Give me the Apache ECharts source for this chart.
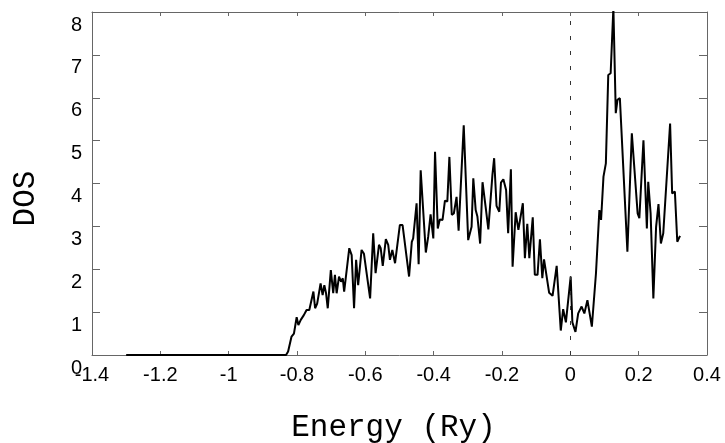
<!DOCTYPE html>
<html>
<head>
<meta charset="utf-8">
<script src="https://cdn.jsdelivr.net/npm/echarts@6/dist/echarts.min.js"></script>
<style>
  html, body { margin: 0; padding: 0; background: #fff; }
  #chart { width: 725px; height: 443px; }
</style>
</head>
<body>
<div id="chart"></div>
<script>
// energy (Ry) and density of states
const energy = [
  -1.300, -0.832, -0.826, -0.816, -0.809, -0.801, -0.796, -0.789, -0.780, -0.772,
  -0.764, -0.752, -0.747, -0.741, -0.735, -0.731, -0.725, -0.720, -0.715, -0.710,
  -0.701, -0.694, -0.689, -0.684, -0.677, -0.671, -0.666, -0.662, -0.647, -0.640,
  -0.633, -0.627, -0.621, -0.611, -0.604, -0.586, -0.577, -0.570, -0.560, -0.555,
  -0.549, -0.540, -0.533, -0.528, -0.521, -0.513, -0.499, -0.491, -0.472, -0.464,
  -0.460, -0.450, -0.444, -0.438, -0.423, -0.416, -0.409, -0.401, -0.396, -0.388,
  -0.382, -0.374, -0.367, -0.360, -0.354, -0.347, -0.341, -0.333, -0.327, -0.312,
  -0.299, -0.289, -0.284, -0.277, -0.272, -0.264, -0.257, -0.248, -0.240, -0.235,
  -0.228, -0.223, -0.216, -0.208, -0.203, -0.196, -0.188, -0.182, -0.174, -0.169,
  -0.160, -0.152, -0.139, -0.133, -0.126, -0.120, -0.110, -0.104, -0.096, -0.089,
  -0.082, -0.077, -0.062, -0.052, -0.040, -0.028, -0.021, -0.013, 0.001, 0.006,
  0.015, 0.023, 0.033, 0.041, 0.050, 0.063, 0.075, 0.085, 0.090, 0.097,
  0.104, 0.111, 0.118, 0.126, 0.133, 0.138, 0.145, 0.167, 0.180, 0.197,
  0.202, 0.214, 0.224, 0.228, 0.235, 0.243, 0.251, 0.258, 0.265, 0.272,
  0.292, 0.298, 0.306, 0.313, 0.321
];
const dos = [
  0, 0, 0.08, 0.43, 0.50, 0.88, 0.70, 0.82, 0.93, 1.05,
  1.05, 1.48, 1.09, 1.20, 1.48, 1.67, 1.40, 1.63, 1.44, 1.09,
  1.98, 1.44, 1.87, 1.44, 1.83, 1.71, 1.79, 1.48, 2.49, 2.33,
  1.09, 2.22, 1.63, 2.45, 2.36, 1.32, 2.84, 1.91, 2.57, 2.49,
  2.08, 2.70, 2.57, 2.22, 2.45, 2.14, 3.03, 3.03, 1.83, 2.64,
  2.72, 3.54, 2.12, 4.31, 2.39, 2.76, 3.28, 2.72, 4.74, 2.95,
  3.16, 3.15, 3.60, 3.58, 4.62, 3.27, 3.30, 3.69, 2.90, 5.36,
  2.68, 2.99, 4.12, 3.38, 3.23, 2.60, 4.03, 3.46, 2.93, 2.95,
  4.20, 4.59, 3.48, 3.34, 4.02, 4.10, 3.85, 2.84, 4.33, 2.06,
  3.33, 2.92, 3.54, 2.26, 3.06, 2.26, 3.21, 1.87, 1.87, 2.70,
  1.79, 2.23, 1.45, 1.38, 2.08, 0.57, 1.07, 0.76, 1.83, 0.76,
  0.54, 0.97, 1.13, 0.97, 1.28, 0.66, 1.90, 3.38, 3.15, 4.16,
  4.47, 6.53, 6.57, 8.10, 5.64, 5.95, 5.99, 2.41, 5.17, 3.30,
  3.19, 5.01, 2.95, 4.04, 3.30, 1.32, 2.99, 3.52, 2.60, 2.84,
  5.40, 3.77, 3.81, 2.64, 2.78
];
const fermiLevel = 0;

const axisColor = '#666';
const labelStyle = { color: '#000', fontSize: 20, fontFamily: 'Liberation Sans, Arial, sans-serif' };
const nameStyle = { color: '#000', fontSize: 31, fontFamily: 'Liberation Mono, Courier New, monospace' };

const chart = echarts.init(document.getElementById('chart'));
chart.setOption({
  animation: false,
  grid: { left: 92, right: 18, top: 12, bottom: 88, containLabel: false, outerBoundsMode: 'none' },
  xAxis: [
    {
      type: 'value',
      min: -1.4,
      max: 0.4,
      interval: 0.2,
      name: 'Energy (Ry)',
      nameLocation: 'middle',
      nameGap: 57,
      nameTextStyle: { ...nameStyle, padding: [0, 12, 0, 0] },
      axisLine: { onZero: false, lineStyle: { color: axisColor } },
      axisTick: { inside: true, length: 4, lineStyle: { color: axisColor } },
      axisLabel: { ...labelStyle, margin: 10, formatter: v => String(Math.round(v * 10) / 10) },
      splitLine: { show: false },
    },
    {
      type: 'value',
      position: 'top',
      min: -1.4,
      max: 0.4,
      interval: 0.2,
      axisLine: { show: true, onZero: false, lineStyle: { color: axisColor } },
      axisTick: { inside: true, length: 4, lineStyle: { color: axisColor } },
      axisLabel: { show: false },
      splitLine: { show: false },
    },
  ],
  yAxis: [
    {
      type: 'value',
      position: 'left',
      min: 0,
      max: 8,
      interval: 1,
      name: 'DOS',
      nameLocation: 'middle',
      nameGap: 51,
      nameTextStyle: { ...nameStyle, padding: [0, 30, 0, 0] },
      axisLine: { show: true, onZero: false, lineStyle: { color: axisColor } },
      axisTick: { show: true, inside: true, length: 8, lineStyle: { color: axisColor } },
      axisLabel: { ...labelStyle, margin: 10, verticalAlign: 'top', padding: [3, 0, 0, 0] },
      splitLine: { show: false },
    },
    {
      type: 'value',
      position: 'right',
      min: 0,
      max: 8,
      interval: 1,
      axisLine: { show: true, onZero: false, lineStyle: { color: axisColor } },
      axisTick: { show: true, inside: true, length: 8, lineStyle: { color: axisColor } },
      axisLabel: { show: false },
      splitLine: { show: false },
    },
  ],
  series: [
    {
      type: 'line',
      data: energy.map((e, i) => [e, dos[i]]),
      showSymbol: false,
      clip: true,
      lineStyle: { color: '#000', width: 2 },
      markLine: {
        silent: true,
        symbol: 'none',
        label: { show: false },
        lineStyle: { color: '#333', width: 1, type: [4, 11] },
        data: [{ xAxis: fermiLevel }],
      },
    },
  ],
});
</script>
</body>
</html>
